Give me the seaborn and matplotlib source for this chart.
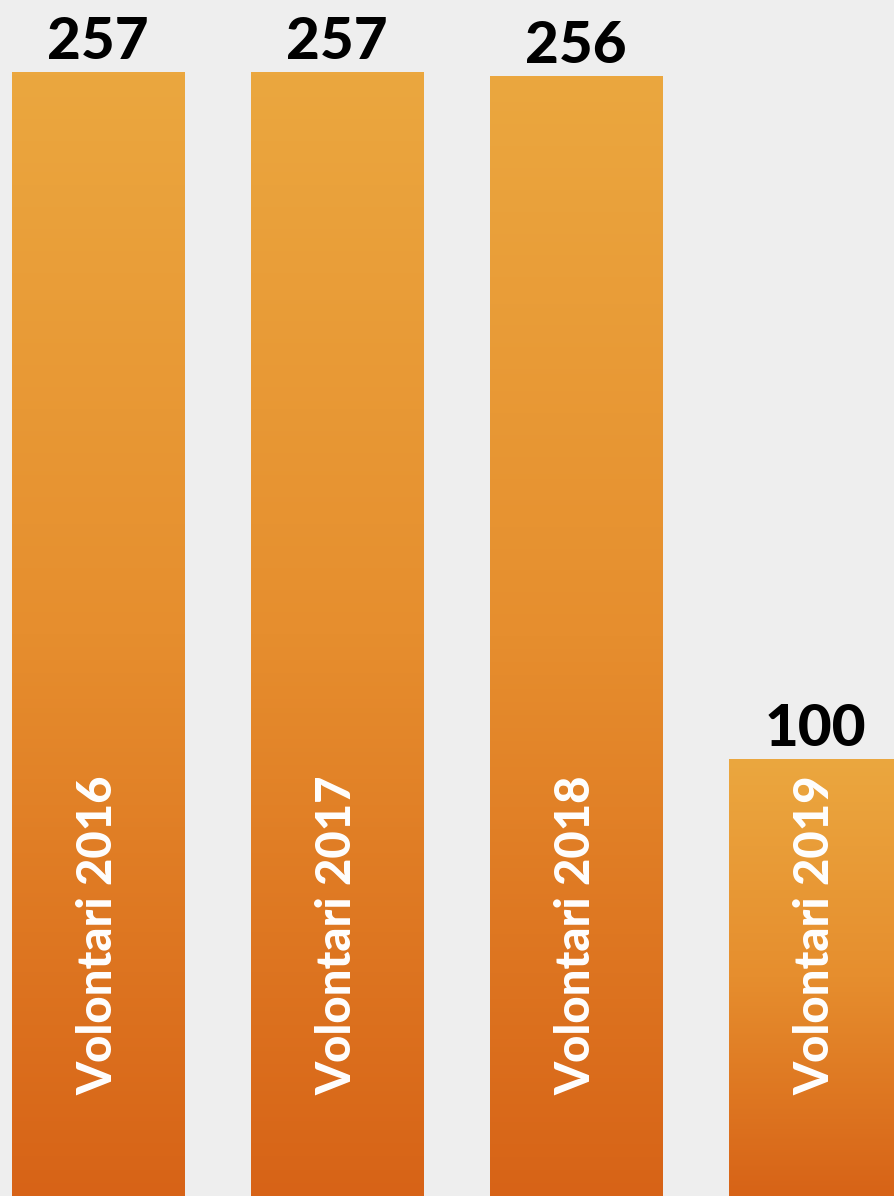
import numpy as np
import pandas as pd
import matplotlib
matplotlib.use("Agg")
import matplotlib.pyplot as plt
from matplotlib.colors import LinearSegmentedColormap
import seaborn as sns

# Volunteers per year
categories = ["Volontari 2016", "Volontari 2017", "Volontari 2018", "Volontari 2019"]
values = [257, 257, 256, 100]

BG = "#eeeeee"
TOP_COLOR = "#eba73f"
BOTTOM_COLOR = "#d76317"

sns.set_theme(style="white")
plt.rcParams["font.family"] = ["Lato", "DejaVu Sans"]

df = pd.DataFrame({"label": categories, "value": values})

fig = plt.figure(figsize=(8.94, 11.96), dpi=100, facecolor=BG)
ax = fig.add_axes([0, 0, 1, 1])
ax.set_facecolor(BG)

sns.barplot(data=df, x="label", y="value", order=categories,
            width=0.72, color=BOTTOM_COLOR, ax=ax, saturation=1)

ax.set_xlim(-0.41, 3.33)
ax.set_ylim(0, 273.4)
ax.set_axis_off()

# vertical gradient inside each bar, light at the top, deep orange at the base
cmap = LinearSegmentedColormap.from_list("wall", [BOTTOM_COLOR, "#e68e2e", TOP_COLOR])
grad = np.linspace(0, 1, 256).reshape(-1, 1)
for patch in ax.patches:
    x0, y0 = patch.get_x(), patch.get_y()
    w, h = patch.get_width(), patch.get_height()
    img = ax.imshow(grad, cmap=cmap, origin="lower", aspect="auto",
                    extent=(x0, x0 + w, y0, y0 + h), zorder=patch.get_zorder())
    img.set_clip_path(patch)
    patch.set_facecolor("none")
    patch.set_edgecolor("none")

ax.set_xlim(-0.41, 3.33)
ax.set_ylim(0, 273.4)

# value labels above the bars
for cont in ax.containers:
    ax.bar_label(cont, labels=[str(v) for v in values], padding=2,
                 fontsize=42, fontweight="black", color="black", zorder=5)

# rotated category names inside the bars
for i, name in enumerate(categories):
    ax.text(i, 0.0845, name, transform=ax.get_xaxis_transform(),
            rotation=90, rotation_mode="anchor", ha="left", va="center",
            fontsize=34, fontweight="black", color="white", zorder=6)

fig.savefig("out.png", dpi=100, facecolor=BG)
